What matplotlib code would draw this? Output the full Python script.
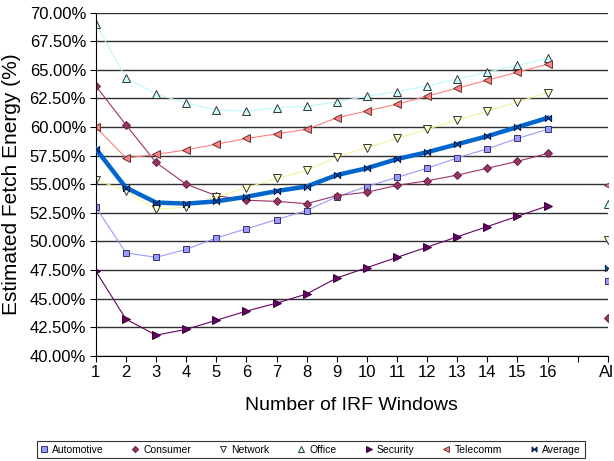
import numpy as np
import matplotlib
matplotlib.use("Agg")
import matplotlib.pyplot as plt
from matplotlib.path import Path

plt.rcParams['font.family'] = ['Liberation Sans', 'DejaVu Sans']

# categories: 1..16, one empty slot, then "All"
windows = list(range(1, 19))
tick_labels = [str(i) for i in range(1, 17)] + ['', 'All']

nan = np.nan
automotive = [53.0, 49.0, 48.6, 49.3, 50.3, 51.1, 51.9, 52.7, 53.9, 54.8, 55.6, 56.4, 57.3, 58.1, 59.0, 59.8, nan, 46.5]
consumer = [63.6, 60.2, 56.9, 55.0, 54.0, 53.6, 53.5, 53.3, 54.0, 54.3, 54.9, 55.3, 55.8, 56.4, 57.0, 57.7, nan, 43.3]
network = [55.4, 54.4, 52.8, 53.0, 53.9, 54.7, 55.5, 56.2, 57.4, 58.2, 59.0, 59.8, 60.6, 61.4, 62.2, 63.0, nan, 50.1]
office = [69.0, 64.3, 62.9, 62.1, 61.5, 61.4, 61.7, 61.8, 62.2, 62.7, 63.1, 63.6, 64.2, 64.8, 65.4, 66.0, nan, 53.3]
security = [47.4, 43.2, 41.8, 42.3, 43.1, 43.9, 44.6, 45.4, 46.8, 47.7, 48.6, 49.5, 50.4, 51.3, 52.2, 53.1, nan, nan]
telecomm = [60.0, 57.3, 57.6, 58.0, 58.5, 59.0, 59.4, 59.8, 60.8, 61.4, 62.0, 62.7, 63.4, 64.1, 64.8, 65.5, nan, 54.9]
average = [58.1, 54.7, 53.4, 53.3, 53.5, 53.9, 54.4, 54.8, 55.8, 56.4, 57.2, 57.8, 58.5, 59.2, 60.0, 60.8, nan, 47.7]

# hourglass-like marker for the average series
bowtie = Path([(-1, -1), (-1, 1), (1, -1), (1, 1), (-1, -1)],
              [Path.MOVETO, Path.LINETO, Path.LINETO, Path.LINETO, Path.CLOSEPOLY])

fig = plt.figure(figsize=(6.14, 4.61), dpi=100)
ax = fig.add_axes([0.156, 0.2284, 0.834, 0.744])

series = [
    ('Automotive', automotive, '#9999FF', 's', '#9999FF', '#333366', 0.8, 5),
    ('Consumer', consumer, '#993366', 'D', '#993366', '#662244', 0.8, 4),
    ('Network', network, '#F2F29A', 'v', '#FFFFCC', '#333333', 0.8, 5.5),
    ('Office', office, '#BFF7F7', '^', '#CCFFFF', '#333333', 0.8, 5.5),
    ('Security', security, '#660066', '>', '#660066', '#330033', 0.8, 5.5),
    ('Telecomm', telecomm, '#FF8080', '<', '#FF8080', '#663333', 0.8, 5.5),
    ('Average', average, '#0066CC', bowtie, '#0066CC', '#001144', 3.2, 4.5),
]

for name, vals, color, mk, fc, ec, lw, ms in series:
    ax.plot(windows, vals, color=color, lw=lw, marker=mk, markersize=ms,
            markerfacecolor=fc, markeredgecolor=ec, markeredgewidth=0.7,
            label=name, zorder=3 if name == 'Average' else 2)

ax.set_xlim(1, 18)
ax.set_ylim(40, 70)
yt = np.arange(40, 70.01, 2.5)
ax.set_yticks(yt)
ax.set_yticklabels(['%.2f%%' % v for v in yt], fontsize=12)
ax.set_xticks(windows)
ax.set_xticklabels(tick_labels, fontsize=12)
ax.grid(axis='y', color='#303030', lw=1.0)
ax.set_axisbelow(True)
for s in ['top', 'right']:
    ax.spines[s].set_visible(False)
ax.tick_params(direction='out', length=4, width=0.8, pad=3)

ax.set_xlabel('Number of IRF Windows', fontsize=14, labelpad=12)
ax.set_ylabel('Estimated Fetch Energy (%)', fontsize=15, labelpad=6)

leg = fig.legend(loc='lower left', bbox_to_anchor=(0.06, 0.006, 0.892, 0.05),
                 mode='expand', ncol=7, fontsize=7.5, frameon=True, fancybox=False,
                 edgecolor='black', handlelength=0.6, handletextpad=0.5,
                 borderpad=0.35, columnspacing=0.8, borderaxespad=0,
                 markerscale=0.8)
leg.get_frame().set_linewidth(0.8)
for h in leg.legend_handles:
    h.set_linestyle('none')

fig.savefig('out.png', dpi=100)
